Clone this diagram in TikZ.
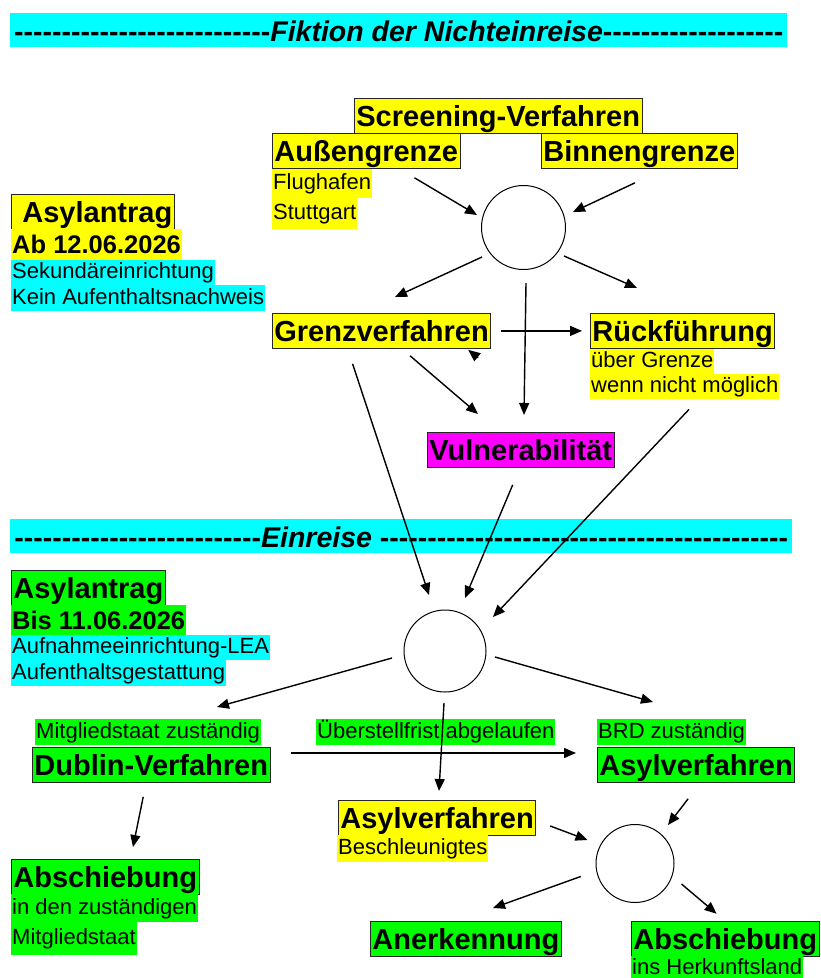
\documentclass[tikz,border=0pt]{standalone}
\usepackage{fontspec}
\setmainfont{Liberation Sans}
\usetikzlibrary{arrows.meta}

\definecolor{gelb}{RGB}{255,255,0}
\definecolor{tuerkis}{RGB}{0,255,255}
\definecolor{gruen}{RGB}{0,255,0}
\definecolor{lila}{RGB}{255,0,255}

\newcommand\grossfont{\fontsize{29}{34}\selectfont\bfseries}
\newcommand\mittelfont{\fontsize{25.5}{30}\selectfont\bfseries}
\newcommand\kleinfont{\fontsize{22}{26}\selectfont}
\newcommand\bandfont{\fontsize{28.5}{34}\selectfont\bfseries}
\newcommand\strichreihe[1]{\foreach \nr in {1,...,#1}{-\kern0pt}}

\begin{document}
\begin{tikzpicture}[
  x=1pt, y=-1pt,
  kasten/.style={draw=black!85, line width=0.8pt, anchor=north west,
    inner xsep=2pt, inner ysep=0pt, minimum height=35pt,
    text height=26pt, text depth=5pt, font=\grossfont},
  marke/.style={anchor=north west, inner xsep=1pt, inner ysep=0pt,
    minimum height=25pt, text height=18pt, text depth=6pt, font=\kleinfont},
  datum/.style={marke, minimum height=30pt, text height=23pt,
    text depth=5pt, font=\mittelfont},
  band/.style={fill=tuerkis, anchor=north west, inner xsep=2pt,
    inner ysep=0pt, minimum height=34pt, text height=26pt,
    text depth=4pt, font=\bandfont},
  kreis/.style={draw, circle, line width=1pt, inner sep=0pt},
  pfeil/.style={-{Triangle[length=12pt,width=10pt]}, line width=1.4pt}
]
\useasboundingbox (0,0) rectangle (820,978);

% ---- TOP BAND: Fiktion der Nichteinreise ----
\node[band, minimum width=777pt] (fiktion) at (10,13)
  {\strichreihe{27}\textit{Fiktion der Nichteinreise}\strichreihe{19}};

% ---- SCREENING ----
\node[kasten, fill=gelb] (screening) at (354,98) {Screening-Verfahren};
\node[kasten, fill=gelb] (aussen) at (272,133) {Außengrenze};
\node[kasten, fill=gelb] (binnen) at (541,133) {Binnengrenze};
\node[marke, fill=gelb, minimum height=29pt] (flughafen) at (272,169) {Flughafen};
\node[marke, fill=gelb, minimum height=31pt] (stuttgart) at (272,198) {Stuttgart};
\node[kreis, minimum size=84pt] (k1) at (523.5,227.5) {};

% ---- LEFT: Asylantrag ab 12.06.2026 ----
\node[kasten, fill=gelb] (antragA) at (11,194) {\hspace*{9pt}Asylantrag};
\node[datum, fill=gelb, minimum height=31pt] (abdatum) at (11,229) {Ab 12.06.2026};
\node[marke, fill=tuerkis] (sekundaer) at (11,260) {Sekundäreinrichtung};
\node[marke, fill=tuerkis, minimum height=26pt] (keinnachweis) at (11,285)
  {Kein Aufenthaltsnachweis};

% ---- GRENZVERFAHREN / RUECKFUEHRUNG ----
\node[kasten, fill=gelb] (grenz) at (272,313) {Grenzverfahren};
\node[kasten, fill=gelb] (rueck) at (590,313) {Rückführung};
\node[marke, fill=gelb] (uebergrenze) at (590,349) {über Grenze};
\node[marke, fill=gelb] (wennnicht) at (590,374) {wenn nicht möglich};
\node[kasten, fill=lila] (vuln) at (427,432) {Vulnerabilität};

% ---- MIDDLE BAND: Einreise ----
\node[band, minimum width=782pt] (einreise) at (10,519)
  {\strichreihe{26}\textit{Einreise} \strichreihe{43}};

% ---- LEFT: Asylantrag bis 11.06.2026 ----
\node[kasten, fill=gruen] (antragB) at (11,570) {Asylantrag};
\node[datum, fill=gruen] (bisdatum) at (11,605) {Bis 11.06.2026};
\node[marke, fill=tuerkis] (lea) at (11,635) {Aufnahmeeinrichtung-LEA};
\node[marke, fill=tuerkis, minimum height=26pt] (gestattung) at (11,660)
  {Aufenthaltsgestattung};
\node[kreis, minimum size=82pt] (k2) at (445,651) {};

% ---- DUBLIN / ASYLVERFAHREN ----
\node[marke, fill=gruen, minimum height=26pt] (mitglied) at (35,719)
  {Mitgliedstaat zuständig};
\node[kasten, fill=gruen] (dublin) at (32,747) {Dublin-Verfahren};
\node[marke, fill=gruen, minimum height=26pt] (frist) at (316,719)
  {Überstellfrist abgelaufen};
\node[marke, fill=gruen, minimum height=26pt] (brd) at (597,719) {BRD zuständig};
\node[kasten, fill=gruen] (asylbrd) at (597,747) {Asylverfahren};
\node[kasten, fill=gelb] (asylbeschl) at (338,800) {Asylverfahren};
\node[marke, fill=gelb, minimum height=27pt] (beschl) at (337,835) {Beschleunigtes};
\node[kreis, minimum size=78pt] (k3) at (635,863.5) {};

% ---- BOTTOM: outcomes ----
\node[kasten, fill=gruen] (abschiebungA) at (11,859) {Abschiebung};
\node[marke, fill=gruen, minimum height=28pt] (zustaendig) at (11,894)
  {in den zuständigen};
\node[marke, fill=gruen, minimum height=33pt] (mitgliedstaat) at (11,922)
  {Mitgliedstaat};
\node[kasten, fill=gruen] (anerkennung) at (370,921) {Anerkennung};
\node[kasten, fill=gruen] (abschiebungB) at (631,921) {Abschiebung};
\node[marke, fill=gruen] (herkunft) at (631,956) {ins Herkunftsland};

% ---- ARROWS: screening ----
\draw[pfeil] ([shift={(-46,9)}]aussen.south east) -- ([shift={(-46.5,-12.5)}]k1.center);
\draw[pfeil] ([shift={(94,14)}]binnen.south west) -- ([shift={(49.5,-15.5)}]k1.center);
\draw[pfeil] ([shift={(-41.5,29.5)}]k1.center) -- ([shift={(123,-16)}]grenz.north west);
\draw[pfeil] ([shift={(40.5,28.5)}]k1.center) -- ([shift={(47,-25)}]rueck.north west);
\draw[pfeil] ([shift={(2.5,55.5)}]k1.center) -- ([shift={(97,-17)}]vuln.north west);
\draw[pfeil, shorten <=10pt, shorten >=8pt] (grenz.east) -- (rueck.west);
\draw[pfeil] ([shift={(-13,9)}]grenz.south east) -- ([shift={(-23,1)}]grenz.south east);
\draw[pfeil] ([shift={(28.5,7)}]grenz.south) -- ([shift={(51,-18)}]vuln.north west);

% ---- ARROWS: across the Einreise band ----
\draw[pfeil] ([shift={(-29,15)}]grenz.south) -- ([shift={(-16,-56)}]k2.center);
\draw[pfeil] ([shift={(-8,17)}]vuln.south) -- ([shift={(20,-53)}]k2.center);
\draw[pfeil] ([shift={(99,10)}]wennnicht.south west) -- ([shift={(48,-34)}]k2.center);

% ---- ARROWS: after Einreise ----
\draw[pfeil] ([shift={(-53,7)}]k2.center) -- ([shift={(182,-12)}]mitglied.north west);
\draw[pfeil] ([shift={(-1,52)}]k2.center) -- ([shift={(101,-9)}]asylbeschl.north west);
\draw[pfeil] ([shift={(50,6)}]k2.center) -- ([shift={(56,-17)}]brd.north west);
\draw[pfeil] ([shift={(21,6)}]dublin.north east) -- ([shift={(-21,6)}]asylbrd.north west);
\draw[pfeil] ([shift={(-8,14)}]dublin.south) -- ([shift={(122,-12)}]abschiebungA.north west);
\draw[pfeil] ([shift={(14,26)}]asylbeschl.north east) -- ([shift={(-47.5,-23.5)}]k3.center);
\draw[pfeil] ([shift={(-8,16)}]asylbrd.south) -- ([shift={(33,-38.5)}]k3.center);
\draw[pfeil] ([shift={(-54.3,13)}]k3.center) -- ([shift={(123,-13)}]anerkennung.north west);
\draw[pfeil] ([shift={(46.5,20.5)}]k3.center) -- ([shift={(85.6,-7.3)}]abschiebungB.north west);

\end{tikzpicture}
\end{document}
